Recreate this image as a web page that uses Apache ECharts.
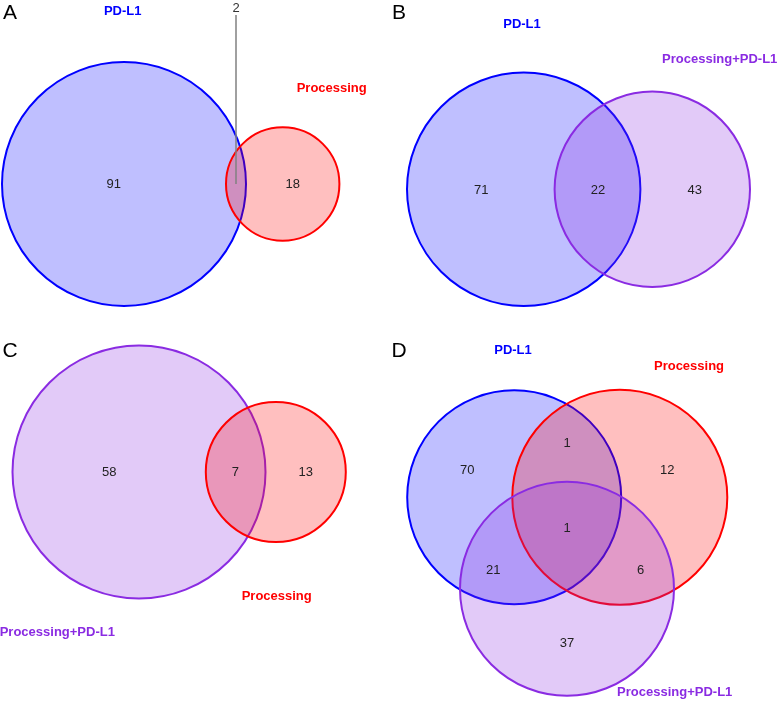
<!DOCTYPE html>
<html>
<head>
<meta charset="utf-8">
<script src="https://cdn.jsdelivr.net/npm/echarts@6/dist/echarts.min.js"></script>
<style>html,body{margin:0;padding:0;background:#fff}#c{width:777px;height:701px}</style>
</head>
<body>
<div id="c"></div>
<script>
// ---- data ----
const panelLetters = ['A', 'B', 'C', 'D'];
const setNames = ['PD-L1', 'Processing', 'Processing+PD-L1'];
// region counts
const countsA = [91, 2, 18];          // PD-L1 only, PD-L1∩Processing, Processing only
const countsB = [71, 22, 43];         // PD-L1 only, PD-L1∩P+PD-L1, P+PD-L1 only
const countsC = [58, 7, 13];          // P+PD-L1 only, ∩, Processing only
const countsD = [70, 1, 12, 1, 21, 6, 37]; // PD-L1 only, PD-L1∩Proc, Proc only, all three, PD-L1∩P+P, Proc∩P+P, P+P only

// ---- layout (pixel-space coordinates on hidden axes) ----
const setColors = ['#0000ff', '#ff0000', '#8a2be2'];
// circles: [cx, cy, r, setIndex]
const circlesLayout = [
  [124, 184, 122, 0], [282.7, 184, 56.7, 1],
  [523.7, 189.3, 116.7, 0], [652.3, 189.3, 97.7, 2],
  [139, 472, 126.5, 2], [275.8, 472, 70, 1],
  [514.2, 497.3, 107, 0], [619.8, 497.3, 107.5, 1], [567, 588.8, 107, 2]
];
const countPos = {
  A: [[113.7, 184], null, [292.7, 184]],
  B: [[481.3, 190], [598, 190], [694.7, 190]],
  C: [[109.3, 472.3], [235.3, 472.3], [305.7, 472.3]],
  D: [[467.3, 470.7], [567, 443.3], [667.3, 470.7], [567, 528.7], [493.3, 570.7], [640.7, 570.7], [567, 643.7]]
};
const calloutA = { text: [236, 8], line: [[236, 15], [236, 184]] };
const letterPos = [[10, 13], [399, 13], [10, 351], [399, 351]];
// set labels: [x, y, setIndex]
const setLabelLayout = [
  [122.7, 11, 0], [331.7, 88, 1],
  [522, 24, 0], [719.7, 59, 2],
  [276.7, 596, 1], [57.3, 632.7, 2],
  [513, 350, 0], [689, 366.3, 1], [674.7, 692.7, 2]
];

// ---- build series data ----
const countTexts = [];
const addCounts = (arr, pos) => arr.forEach((v, i) => { if (pos[i]) countTexts.push([pos[i][0], pos[i][1], v]); });
addCounts(countsA, countPos.A);
addCounts(countsB, countPos.B);
addCounts(countsC, countPos.C);
addCounts(countsD, countPos.D);

const chart = echarts.init(document.getElementById('c'), null, { renderer: 'canvas' });
chart.setOption({
  animation: false,
  backgroundColor: '#ffffff',
  grid: { left: 0, right: 0, top: 0, bottom: 0 },
  xAxis: { type: 'value', min: 0, max: 777, show: false },
  yAxis: { type: 'value', min: 0, max: 701, inverse: true, show: false },
  series: [
    {
      type: 'custom',
      coordinateSystem: 'cartesian2d',
      data: circlesLayout,
      renderItem: function (params, api) {
        const c = api.coord([api.value(0), api.value(1)]);
        const r = api.size([api.value(2), 0])[0];
        const col = setColors[api.value(3)];
        return {
          type: 'circle',
          shape: { cx: c[0], cy: c[1], r: r },
          style: { fill: echarts.color.modifyAlpha(col, 0.25), stroke: col, lineWidth: 2 }
        };
      },
      z: 1
    },
    {
      type: 'custom',
      coordinateSystem: 'cartesian2d',
      data: [[calloutA.line[0][0], calloutA.line[0][1], calloutA.line[1][0], calloutA.line[1][1], countsA[1]]],
      renderItem: function (params, api) {
        const p1 = api.coord([api.value(0), api.value(1)]);
        const p2 = api.coord([api.value(2), api.value(3)]);
        const t = api.coord(calloutA.text);
        return {
          type: 'group',
          children: [
            { type: 'line', shape: { x1: p1[0], y1: p1[1], x2: p2[0], y2: p2[1] }, style: { stroke: '#808080', lineWidth: 1.5 } },
            { type: 'text', x: t[0], y: t[1], style: { text: String(api.value(4)), fill: '#333', font: '13px "Liberation Sans", Arial, sans-serif', align: 'center', verticalAlign: 'middle' } }
          ]
        };
      },
      z: 3
    },
    {
      type: 'custom',
      coordinateSystem: 'cartesian2d',
      data: countTexts,
      renderItem: function (params, api) {
        const c = api.coord([api.value(0), api.value(1)]);
        return {
          type: 'text', x: c[0], y: c[1],
          style: { text: String(api.value(2)), fill: '#222', font: '13px "Liberation Sans", Arial, sans-serif', align: 'center', verticalAlign: 'middle' }
        };
      },
      z: 4
    },
    {
      type: 'custom',
      coordinateSystem: 'cartesian2d',
      data: setLabelLayout,
      renderItem: function (params, api) {
        const c = api.coord([api.value(0), api.value(1)]);
        const si = api.value(2);
        return {
          type: 'text', x: c[0], y: c[1],
          style: { text: setNames[si], fill: setColors[si], font: 'bold 13px "Liberation Sans", Arial, sans-serif', align: 'center', verticalAlign: 'middle' }
        };
      },
      z: 4
    },
    {
      type: 'custom',
      coordinateSystem: 'cartesian2d',
      data: letterPos.map((p, i) => [p[0], p[1], i]),
      renderItem: function (params, api) {
        const c = api.coord([api.value(0), api.value(1)]);
        return {
          type: 'text', x: c[0], y: c[1],
          style: { text: panelLetters[api.value(2)], fill: '#000', font: '21px "Liberation Sans", Arial, sans-serif', align: 'center', verticalAlign: 'middle' }
        };
      },
      z: 4
    }
  ]
});
</script>
</body>
</html>
